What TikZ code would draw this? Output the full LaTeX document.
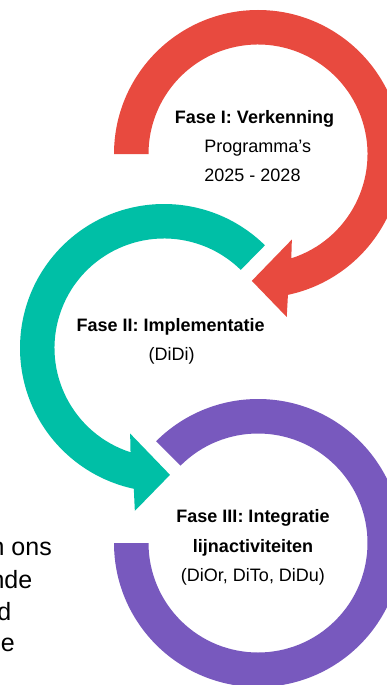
\documentclass[tikz,border=0pt]{standalone}
\usepackage{fontspec}
\setmainfont{Liberation Sans}
\usetikzlibrary{calc}
\definecolor{redA}{HTML}{E84A3F}
\definecolor{tealA}{HTML}{00BFA6}
\definecolor{purpA}{HTML}{7859BE}
\begin{document}
\begin{tikzpicture}[x=1pt,y=1pt,
  lbl/.style={anchor=base, inner sep=0pt, text=black, font=\fontsize{18}{20}\selectfont},
  lblb/.style={anchor=base, inner sep=0pt, text=black, font=\fontsize{18}{20}\selectfont\bfseries},
  side/.style={anchor=base east, inner sep=0pt, text=black, font=\fontsize{25}{28}\selectfont}]
\useasboundingbox (0,0) rectangle (387,-685);
\clip (0,0) rectangle (387,-685);
\fill[white] (0,0) rectangle (387,-685);
\coordinate (cR) at (258,-154);
\coordinate (cT) at (164,-348);
\coordinate (cP) at (258,-543);
\def\ro{144}
\def\ri{109.5}
% Phase I arrow (red)
\fill[redA] ($(cR)+(180:\ro)$) arc[start angle=180,end angle=-78,radius=\ro]
  -- ($(cR)+(-80:165.5)$) -- ($(cR)+(-92.8:127)$) -- ($(cR)+(-68.4:92)$)
  -- ($(cR)+(-72.3:\ri)$) arc[start angle=-72.3,end angle=180,radius=\ri] -- cycle;
% Phase II arrow (teal)
\fill[tealA] ($(cT)+(45.5:\ro)$) arc[start angle=45.5,end angle=257.9,radius=\ro]
  -- ($(cT)+(259.85:165.5)$) -- ($(cT)+(272.7:127)$) -- ($(cT)+(248.4:92)$)
  -- ($(cT)+(252.2:\ri)$) arc[start angle=252.2,end angle=45.5,radius=\ri] -- cycle;
% Phase III ring (purple)
\fill[purpA] ($(cP)+(180:\ro)$) arc[start angle=180,end angle=495,radius=\ro]
  -- ($(cP)+(135:\ri)$) arc[start angle=135,end angle=-180,radius=\ri] -- cycle;
% texts
\node[lblb] (f1) at (254.5,-123.3) {Fase I: Verkenning};
\node[lbl] (f1a) at (257.8,-152.7) {Programma’s};
\node[lbl] (f1b) at (252.5,-181.7) {2025 - 2028};
\node[lblb] (f2) at (170.7,-331.7) {Fase II: Implementatie};
\node[lbl] (f2a) at (171.7,-360) {(DiDi)};
\node[lblb] (f3) at (253,-522.7) {Fase III: Integratie};
\node[lblb] (f3a) at (253,-552.3) {lijnactiviteiten};
\node[lbl] (f3b) at (253,-581) {(DiOr, DiTo, DiDu)};
\node[side] (s1) at (52,-555) {n ons};
\node[side] (s2) at (32.5,-588.3) {nde};
\node[side] (s3) at (11.5,-620) {d};
\node[side] (s4) at (15,-651.7) {e};
\end{tikzpicture}
\end{document}
